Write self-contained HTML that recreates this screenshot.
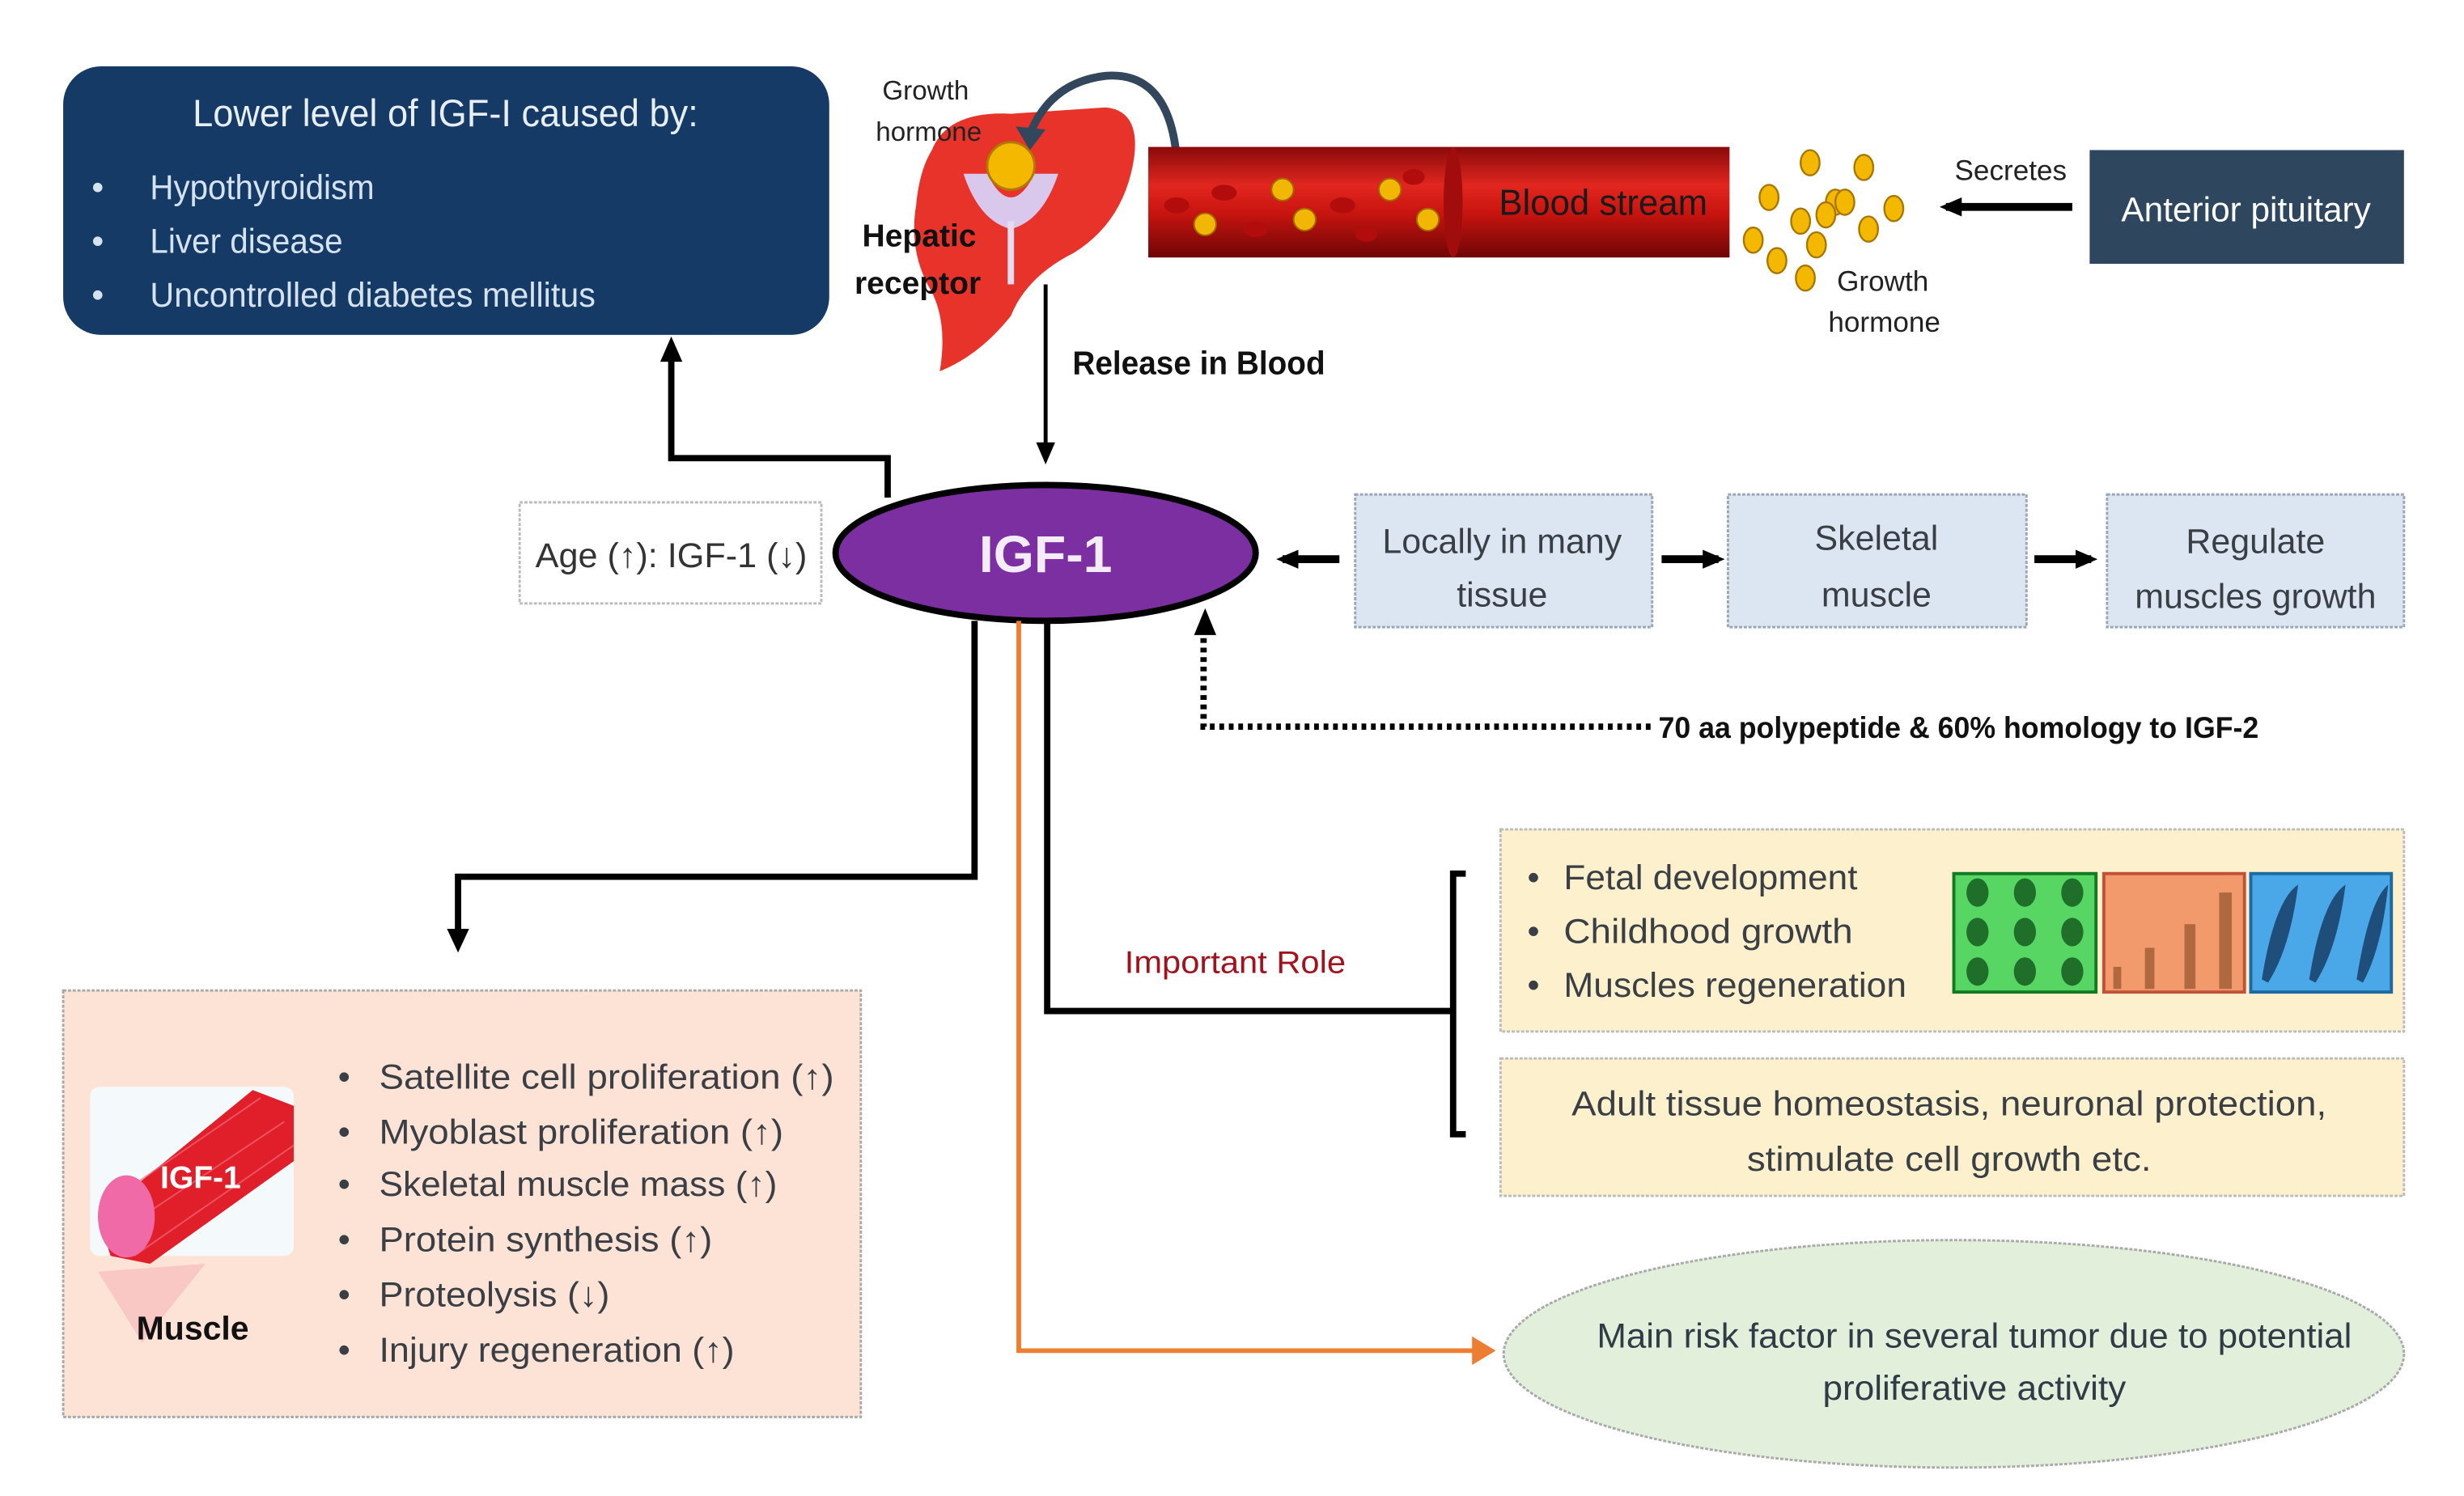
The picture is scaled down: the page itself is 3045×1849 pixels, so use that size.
<!DOCTYPE html>
<html><head><meta charset="utf-8"><style>
html,body{margin:0;padding:0;background:#fff;}
svg{display:block;}
text{font-family:"Liberation Sans Narrow","Liberation Sans",sans-serif;}
</style></head><body>
<svg width="3045" height="1849" viewBox="0 0 1560 947" preserveAspectRatio="none" xmlns="http://www.w3.org/2000/svg">
<defs>
<linearGradient id="vein" x1="0" y1="0" x2="0" y2="1">
<stop offset="0" stop-color="#8a0a0a"/><stop offset="0.35" stop-color="#e2261f"/><stop offset="0.6" stop-color="#c8140f"/><stop offset="1" stop-color="#6e0606"/></linearGradient>
<marker id="ah" markerWidth="14" markerHeight="14" refX="10" refY="7" orient="auto" markerUnits="userSpaceOnUse"><path d="M0,1 L14,7 L0,13 z" fill="#000"/></marker>
</defs>

<!-- navy box -->
<rect x="40" y="42" width="485" height="170" rx="24" fill="#163a66"/>
<text x="282" y="80" font-size="24" fill="#e8eef6" text-anchor="middle" textLength="320" lengthAdjust="spacingAndGlyphs">Lower level of IGF-I caused by:</text>
<g fill="#d5e2ef" font-size="22">
<text x="58" y="126">•</text><text x="95" y="126" textLength="142" lengthAdjust="spacingAndGlyphs">Hypothyroidism</text>
<text x="58" y="160">•</text><text x="95" y="160" textLength="122" lengthAdjust="spacingAndGlyphs">Liver disease</text>
<text x="58" y="194">•</text><text x="95" y="194" textLength="282" lengthAdjust="spacingAndGlyphs">Uncontrolled  diabetes  mellitus</text>
</g>

<!-- liver -->
<path d="M590,95 Q600,70 640,72 L700,68 Q722,70 718,100 Q712,140 680,160 Q650,175 640,200 Q620,225 595,235 Q600,205 590,185 Q575,160 580,130 Q582,108 590,95z" fill="#e8332a"/>
<path d="M610,110 L625,110 Q640,140 655,110 L670,110 Q660,140 640,145 Q620,140 610,110z" fill="#d9c8ec"/>
<rect x="638" y="140" width="4" height="40" fill="#e6dcf2"/>
<circle cx="640" cy="105" r="15" fill="#f5b800" stroke="#b07a00" stroke-width="1.5"/>
<path d="M745,100 Q740,45 700,48 Q665,52 652,85" fill="none" stroke="#33475c" stroke-width="5"/>
<path d="M643,80 L652,95 L662,82z" fill="#33475c"/>
<g font-size="17" fill="#222" text-anchor="middle">
<text x="586" y="63">Growth</text><text x="588" y="89">hormone</text></g>
<g font-size="20" fill="#111" text-anchor="middle" font-weight="bold">
<text x="582" y="156">Hepatic</text><text x="581" y="186">receptor</text></g>

<!-- vessel -->
<rect x="727" y="93" width="368" height="70" fill="url(#vein)"/>
<ellipse cx="920" cy="128" rx="6" ry="35" fill="#a10d0d"/>
<g fill="#f2b705" stroke="#a06a00" stroke-width="1">
<circle cx="763" cy="142" r="7"/><circle cx="812" cy="120" r="7"/><circle cx="826" cy="139" r="7"/><circle cx="880" cy="120" r="7"/><circle cx="904" cy="139" r="7"/></g>
<g fill="#b30c0c"><ellipse cx="745" cy="130" rx="8" ry="5"/><ellipse cx="775" cy="122" rx="8" ry="5"/><ellipse cx="795" cy="145" rx="8" ry="5"/><ellipse cx="850" cy="130" rx="8" ry="5"/><ellipse cx="865" cy="148" rx="7" ry="5"/><ellipse cx="895" cy="112" rx="7" ry="5"/></g>
<text x="1015" y="136" font-size="23" fill="#1a1a1a" text-anchor="middle" textLength="132" lengthAdjust="spacingAndGlyphs">Blood  stream</text>

<!-- GH dots -->
<g fill="#f5b800" stroke="#a87600" stroke-width="1.2">
<ellipse cx="1146" cy="103" rx="6" ry="8"/><ellipse cx="1180" cy="106" rx="6" ry="8"/><ellipse cx="1120" cy="125" rx="6" ry="8"/><ellipse cx="1162" cy="128" rx="6" ry="8"/><ellipse cx="1156" cy="136" rx="6" ry="8"/><ellipse cx="1168" cy="128" rx="6" ry="8"/><ellipse cx="1199" cy="132" rx="6" ry="8"/><ellipse cx="1140" cy="140" rx="6" ry="8"/><ellipse cx="1183" cy="145" rx="6" ry="8"/><ellipse cx="1110" cy="152" rx="6" ry="8"/><ellipse cx="1150" cy="155" rx="6" ry="8"/><ellipse cx="1125" cy="165" rx="6" ry="8"/><ellipse cx="1143" cy="176" rx="6" ry="8"/></g>
<g font-size="18" fill="#222" text-anchor="middle"><text x="1192" y="184">Growth</text><text x="1193" y="210">hormone</text><text x="1273" y="114">Secretes</text></g>
<line x1="1312" y1="131" x2="1232" y2="131" stroke="#000" stroke-width="5" marker-end="url(#ah)"/>
<rect x="1323" y="95" width="199" height="72" fill="#2e475f"/>
<text x="1422" y="140" font-size="22" fill="#fff" text-anchor="middle" textLength="158" lengthAdjust="spacingAndGlyphs">Anterior pituitary</text>

<!-- release -->
<line x1="662" y1="180" x2="662" y2="290" stroke="#000" stroke-width="2.5" marker-end="url(#ah)"/>
<text x="679" y="237" font-size="21" font-weight="bold" fill="#111" textLength="160" lengthAdjust="spacingAndGlyphs">Release in Blood</text>
<polyline points="562,315 562,290 425,290 425,225" fill="none" stroke="#000" stroke-width="4"/>
<path d="M418,229 L425,213 L432,229z" fill="#000"/>

<!-- age -->
<rect x="329" y="318" width="191" height="64" fill="#fff" stroke="#bbb" stroke-width="1.5" stroke-dasharray="2,1"/>
<text x="425" y="359" font-size="22" fill="#333" text-anchor="middle" textLength="172" lengthAdjust="spacingAndGlyphs">Age (↑): IGF-1 (↓)</text>

<!-- IGF-1 ellipse -->
<ellipse cx="662" cy="350" rx="133" ry="43" fill="#7b2fa0" stroke="#000" stroke-width="4"/>
<text x="662" y="362" font-size="33" font-weight="bold" fill="#f4ecf8" text-anchor="middle">IGF-1</text>

<!-- right chain -->
<line x1="848" y1="354" x2="812" y2="354" stroke="#000" stroke-width="5" marker-end="url(#ah)"/>
<g fill="#dce6f2" stroke="#9aa7b5" stroke-width="1.5" stroke-dasharray="2,1">
<rect x="858" y="313" width="188" height="84"/><rect x="1094" y="313" width="189" height="84"/><rect x="1334" y="313" width="188" height="84"/></g>
<g font-size="22" fill="#3a3f46" text-anchor="middle">
<text x="951" y="350">Locally  in many</text><text x="951" y="384">tissue</text>
<text x="1188" y="348">Skeletal</text><text x="1188" y="384">muscle</text>
<text x="1428" y="350">Regulate</text><text x="1428" y="385">muscles  growth</text></g>
<line x1="1052" y1="354" x2="1088" y2="354" stroke="#000" stroke-width="5" marker-end="url(#ah)"/>
<line x1="1288" y1="354" x2="1324" y2="354" stroke="#000" stroke-width="5" marker-end="url(#ah)"/>

<!-- dotted -->
<polyline points="1045,460 762,460 762,400" fill="none" stroke="#000" stroke-width="4" stroke-dasharray="3,3"/>
<path d="M756,402 L763,385 L770,402z" fill="#000"/>
<text x="1050" y="467" font-size="19" font-weight="bold" fill="#111" textLength="380" lengthAdjust="spacingAndGlyphs">70 aa polypeptide &amp; 60% homology to IGF-2</text>

<!-- down lines -->
<polyline points="617,393 617,555 290,555 290,590" fill="none" stroke="#000" stroke-width="4"/>
<path d="M283,588 L290,603 L297,588z" fill="#000"/>
<polyline points="663,393 663,640 920,640" fill="none" stroke="#000" stroke-width="4"/>
<polyline points="645,393 645,855 935,855" fill="none" stroke="#ed7d31" stroke-width="3"/>
<path d="M932,846 L947,855 L932,864z" fill="#ed7d31"/>
<polyline points="928,553 920,553 920,718 928,718" fill="none" stroke="#000" stroke-width="4"/>
<text x="782" y="616" font-size="20" fill="#a3121c" text-anchor="middle" textLength="140" lengthAdjust="spacingAndGlyphs">Important Role</text>

<!-- yellow boxes -->
<rect x="950" y="525" width="572" height="128" fill="#fdf0cc" stroke="#bbb" stroke-width="1.5" stroke-dasharray="2,1"/>
<g font-size="22" fill="#3a3f46">
<text x="967" y="563">•</text><text x="990" y="563" textLength="186" lengthAdjust="spacingAndGlyphs">Fetal development</text>
<text x="967" y="597">•</text><text x="990" y="597" textLength="183" lengthAdjust="spacingAndGlyphs">Childhood  growth</text>
<text x="967" y="631">•</text><text x="990" y="631" textLength="217" lengthAdjust="spacingAndGlyphs">Muscles  regeneration</text></g>
<rect x="1237" y="553" width="90" height="75" fill="#57d663" stroke="#137a22" stroke-width="2"/>
<g fill="#1f6e2a"><ellipse cx="1252" cy="565" rx="7" ry="9"/><ellipse cx="1282" cy="565" rx="7" ry="9"/><ellipse cx="1312" cy="565" rx="7" ry="9"/><ellipse cx="1252" cy="590" rx="7" ry="9"/><ellipse cx="1282" cy="590" rx="7" ry="9"/><ellipse cx="1312" cy="590" rx="7" ry="9"/><ellipse cx="1252" cy="615" rx="7" ry="9"/><ellipse cx="1282" cy="615" rx="7" ry="9"/><ellipse cx="1312" cy="615" rx="7" ry="9"/></g>
<rect x="1332" y="553" width="89" height="75" fill="#f39a6d" stroke="#c0513a" stroke-width="2"/>
<g fill="#b0683f"><rect x="1338" y="612" width="5" height="14"/><rect x="1358" y="600" width="6" height="26"/><rect x="1383" y="585" width="7" height="41"/><rect x="1405" y="565" width="8" height="61"/></g>
<rect x="1425" y="553" width="89" height="75" fill="#4aa7e8" stroke="#1c6aa0" stroke-width="2"/>
<g fill="#1f4e7a"><path d="M1432,620 Q1440,570 1455,560 Q1450,600 1436,622z"/><path d="M1462,620 Q1470,570 1485,560 Q1480,600 1466,622z"/><path d="M1492,620 Q1500,570 1512,560 Q1508,600 1496,622z"/></g>
<rect x="950" y="670" width="572" height="87" fill="#fdf0cc" stroke="#bbb" stroke-width="1.5" stroke-dasharray="2,1"/>
<g font-size="22" fill="#3a3f46" text-anchor="middle">
<text x="1234" y="706" textLength="478" lengthAdjust="spacingAndGlyphs">Adult  tissue  homeostasis,  neuronal  protection,</text>
<text x="1234" y="741" textLength="256" lengthAdjust="spacingAndGlyphs">stimulate  cell  growth etc.</text></g>

<!-- muscle box -->
<rect x="40" y="627" width="505" height="270" fill="#fde3d6" stroke="#aaa" stroke-width="1.5" stroke-dasharray="2,1"/>
<rect x="57" y="688" width="129" height="107" rx="6" fill="#f4fafc"/>
<path d="M62,770 L160,690 L186,700 L186,735 L95,800 L70,795z" fill="#e01f2a"/>
<g stroke="#f06a7a" stroke-width="1" fill="none" opacity="0.7"><line x1="70" y1="760" x2="165" y2="695"/><line x1="75" y1="780" x2="180" y2="710"/><line x1="85" y1="795" x2="186" y2="725"/></g>
<ellipse cx="80" cy="770" rx="18" ry="26" fill="#f06aa8"/>
<path d="M62,805 L130,800 L90,850z" fill="#f7b6b8" opacity="0.6"/>
<text x="127" y="752" font-size="20" fill="#fff" text-anchor="middle" font-weight="bold">IGF-1</text>
<text x="122" y="848" font-size="21" font-weight="bold" fill="#111" text-anchor="middle">Muscle</text>
<g font-size="22" fill="#3a3f46">
<text x="214" y="689">•</text><text x="240" y="689" textLength="288" lengthAdjust="spacingAndGlyphs">Satellite  cell  proliferation  (↑)</text>
<text x="214" y="724">•</text><text x="240" y="724" textLength="256" lengthAdjust="spacingAndGlyphs">Myoblast  proliferation  (↑)</text>
<text x="214" y="757">•</text><text x="240" y="757" textLength="252" lengthAdjust="spacingAndGlyphs">Skeletal  muscle  mass  (↑)</text>
<text x="214" y="792">•</text><text x="240" y="792" textLength="211" lengthAdjust="spacingAndGlyphs">Protein  synthesis  (↑)</text>
<text x="214" y="827">•</text><text x="240" y="827" textLength="146" lengthAdjust="spacingAndGlyphs">Proteolysis  (↓)</text>
<text x="214" y="862">•</text><text x="240" y="862" textLength="225" lengthAdjust="spacingAndGlyphs">Injury  regeneration  (↑)</text></g>

<!-- green ellipse -->
<ellipse cx="1237" cy="857" rx="285" ry="72" fill="#e2efda" stroke="#aaa" stroke-width="1.5" stroke-dasharray="2,1"/>
<g font-size="22" fill="#2f3b46" text-anchor="middle">
<text x="1250" y="853" textLength="478" lengthAdjust="spacingAndGlyphs">Main risk factor in several tumor due to potential</text>
<text x="1250" y="886" textLength="192" lengthAdjust="spacingAndGlyphs">proliferative activity</text></g>
</svg>
</body></html>
